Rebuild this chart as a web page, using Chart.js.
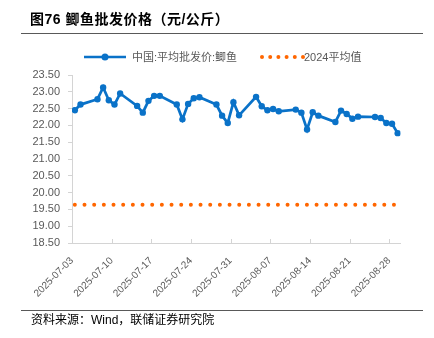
<!DOCTYPE html>
<html>
<head>
<meta charset="utf-8">
<script src="https://cdn.jsdelivr.net/npm/chart.js@4.4.1/dist/chart.umd.min.js"></script>
<style>
  html, body { margin: 0; padding: 0; background: #fff; }
  #page { position: relative; width: 434px; height: 338px; overflow: hidden;
          font-family: "Liberation Sans", "Noto Sans CJK SC", sans-serif; }
  #title { position: absolute; left: 30px; top: 10px; font-size: 14px; font-weight: bold;
           line-height: 18px; color: #000; white-space: nowrap; letter-spacing: 0.5px; }
  .rule { position: absolute; left: 21px; width: 402px; height: 1px; background: #595959; }
  #legend { position: absolute; left: 0; top: 49px; height: 16px; width: 434px;
            font-size: 11px; line-height: 16px; color: #595959; }
  #legend svg, #legend span { position: absolute; top: 0; }
  #footer { position: absolute; left: 31px; top: 312px; font-size: 12px; line-height: 16px;
            color: #000; white-space: nowrap; }
  #wrap { position: absolute; left: 0; top: 0; width: 434px; height: 338px; }
</style>
</head>
<body>
<div id="page">
  <div id="wrap"><canvas id="fishChart" width="434" height="338"></canvas></div>
  <div id="title">图76 鲫鱼批发价格（元/公斤）</div>
  <div class="rule" style="top:33px"></div>
  <div id="legend">
    <svg style="left:84px" width="44" height="16">
      <line x1="0" y1="8" x2="42" y2="8" stroke="#0A72C8" stroke-width="2.5"/>
      <circle cx="21" cy="8" r="3.5" fill="#0A72C8"/>
    </svg>
    <span style="left:132px">中国:平均批发价:鲫鱼</span>
    <svg style="left:258px" width="48" height="16">
      <circle cx="4" cy="8" r="2" fill="#FF6600"/>
      <circle cx="12.2" cy="8" r="2" fill="#FF6600"/>
      <circle cx="20.4" cy="8" r="2" fill="#FF6600"/>
      <circle cx="28.6" cy="8" r="2" fill="#FF6600"/>
      <circle cx="36.8" cy="8" r="2" fill="#FF6600"/>
      <circle cx="45" cy="8" r="2" fill="#FF6600"/>
    </svg>
    <span style="left:304px">2024平均值</span>
  </div>
  <div class="rule" style="top:310px"></div>
  <div id="footer">资料来源：Wind，联储证券研究院</div>
</div>
<script>
// ── Data ────────────────────────────────────────────────────
const dates = [
  '2025-07-03','2025-07-04','2025-07-07','2025-07-08','2025-07-09','2025-07-10','2025-07-11',
  '2025-07-14','2025-07-15','2025-07-16','2025-07-17','2025-07-18',
  '2025-07-21','2025-07-22','2025-07-23','2025-07-24','2025-07-25',
  '2025-07-28','2025-07-29','2025-07-30','2025-07-31','2025-08-01',
  '2025-08-04','2025-08-05','2025-08-06','2025-08-07','2025-08-08',
  '2025-08-11','2025-08-12','2025-08-13','2025-08-14','2025-08-15',
  '2025-08-18','2025-08-19','2025-08-20','2025-08-21','2025-08-22',
  '2025-08-25','2025-08-26','2025-08-27','2025-08-28','2025-08-29'
];
const prices = [
  22.45, 22.62, 22.78, 23.13, 22.75, 22.62, 22.95,
  22.58, 22.38, 22.73, 22.88, 22.88,
  22.62, 22.18, 22.64, 22.81, 22.84,
  22.62, 22.29, 22.07, 22.69, 22.30,
  22.85, 22.57, 22.45, 22.49, 22.42,
  22.47, 22.38, 21.88, 22.39, 22.29,
  22.10, 22.44, 22.34, 22.20, 22.26,
  22.25, 22.22, 22.07, 22.05, 21.77
];
const avg2024 = 19.64;
const tickDates = [
  '2025-07-03','2025-07-10','2025-07-17','2025-07-24','2025-07-31',
  '2025-08-07','2025-08-14','2025-08-21','2025-08-28'
];
const axisStart = '2025-07-03';
const axisEnd   = '2025-08-30';
const yTicks = [18.5, 19, 19.5, 20, 20.5, 21, 21.5, 22, 22.5, 23, 23.5];

// ── Helpers ─────────────────────────────────────────────────
const DAY = 86400000;
const dayOf = d => (Date.parse(d) - Date.parse(axisStart)) / DAY;
const dateOf = n => new Date(Date.parse(axisStart) + n * DAY).toISOString().slice(0, 10);

// points sit in the middle of their day slot
const priceData = dates.map((d, i) => ({ x: dayOf(d) + 0.5, y: prices[i] }));
const avgData   = dates.map(d => ({ x: dayOf(d) + 0.5, y: avg2024 }));

const AXIS_GRAY = '#d4d4d4';
const TEXT_GRAY = '#595959';

// small upward tick marks on the x axis
const upTicks = {
  id: 'upTicks',
  afterDraw(chart) {
    const sx = chart.scales.x, ctx = chart.ctx;
    const yb = chart.chartArea.bottom;
    ctx.save();
    ctx.strokeStyle = AXIS_GRAY;
    ctx.lineWidth = 1;
    sx.ticks.forEach(t => {
      const px = Math.round(sx.getPixelForValue(t.value)) + 0.5;
      ctx.beginPath();
      ctx.moveTo(px, yb);
      ctx.lineTo(px, yb - 4);
      ctx.stroke();
    });
    ctx.restore();
  }
};

Chart.defaults.font.family = "'Liberation Sans', Arial, sans-serif";
Chart.defaults.color = TEXT_GRAY;

new Chart(document.getElementById('fishChart'), {
  type: 'line',
  data: {
    datasets: [
      {
        label: '中国:平均批发价:鲫鱼',
        data: priceData,
        borderColor: '#0A72C8',
        backgroundColor: '#0A72C8',
        borderWidth: 2.75,
        pointRadius: 3.2,
        pointBorderWidth: 0,
        tension: 0,
      },
      {
        label: '2024平均值',
        data: avgData,
        borderColor: '#FF6600',
        borderWidth: 4,
        borderDash: [0, 9.67],
        borderCapStyle: 'round',
        pointRadius: 0,
        tension: 0,
      },
    ],
  },
  options: {
    responsive: false,
    animation: false,
    layout: { padding: { left: 0, right: 33.5, top: 75, bottom: 0 } },
    plugins: { legend: { display: false }, tooltip: { enabled: false } },
    scales: {
      x: {
        type: 'linear',
        min: 0,
        max: dayOf(axisEnd),
        afterBuildTicks: s => { s.ticks = tickDates.map(d => ({ value: dayOf(d) })); },
        afterFit: s => { s.height = 95; },
        grid: { display: false },
        border: { display: true, color: AXIS_GRAY, width: 1 },
        ticks: {
          autoSkip: false,
          minRotation: 45,
          maxRotation: 45,
          padding: 4,
          font: { size: 10 },
          color: TEXT_GRAY,
          callback: v => dateOf(v),
        },
      },
      y: {
        min: 18.5,
        max: 23.5,
        afterBuildTicks: s => { s.ticks = yTicks.map(v => ({ value: v })); },
        afterFit: s => { s.width = 72; },
        grid: { drawOnChartArea: false, drawTicks: true, tickLength: 4, color: AXIS_GRAY },
        border: { display: true, color: AXIS_GRAY, width: 1 },
        ticks: {
          padding: 8,
          font: { size: 11 },
          color: TEXT_GRAY,
          callback: v => v.toFixed(2),
        },
      },
    },
  },
  plugins: [upTicks],
});
</script>
</body>
</html>
